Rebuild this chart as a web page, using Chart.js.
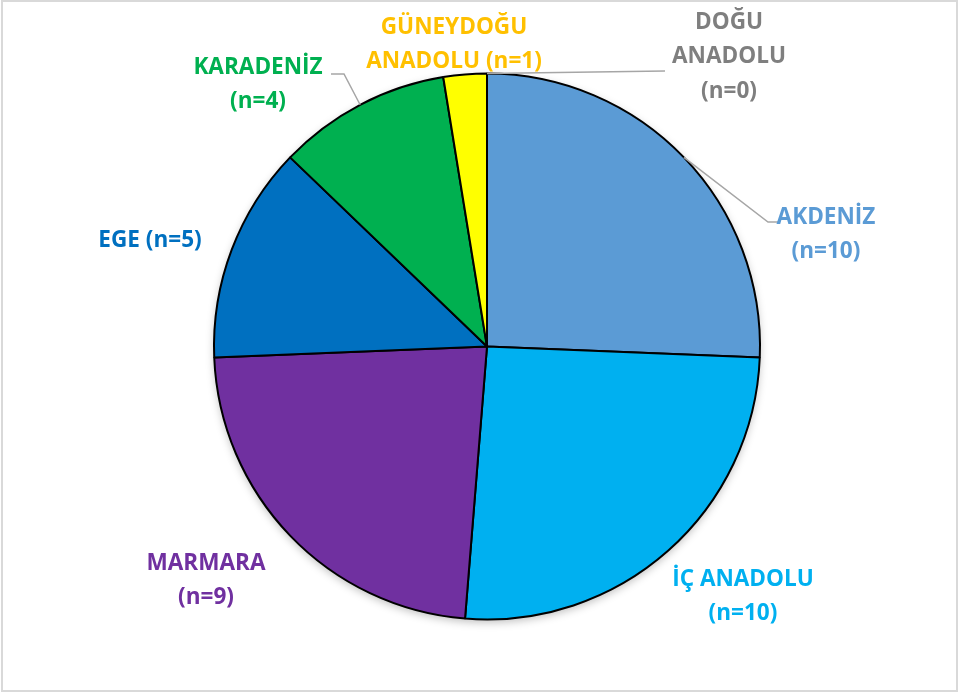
<!DOCTYPE html>
<html>
<head>
<meta charset="utf-8">
<script src="https://cdn.jsdelivr.net/npm/chart.js@4.4.0/dist/chart.umd.min.js"></script>
<style>
  html, body { margin: 0; padding: 0; background: #fff; }
  #wrap { position: relative; width: 960px; height: 693px; }
  #frame { position: absolute; left: 1px; top: 0; width: 953px; height: 688px; border: 2px solid #d9d9d9; }
  canvas { position: absolute; left: 0; top: 0; }
</style>
</head>
<body>
<div id="wrap">
  <div id="frame"></div>
  <canvas id="pie" width="960" height="693"></canvas>
</div>
<script>
// regions, clockwise from 12 o'clock
const regions = ['AKDENİZ', 'İÇ ANADOLU', 'MARMARA', 'EGE', 'KARADENİZ', 'GÜNEYDOĞU ANADOLU', 'DOĞU ANADOLU'];
const counts = [10, 10, 9, 5, 4, 1, 0];
const sliceColors = ['#5B9BD5', '#00B0F0', '#7030A0', '#0070C0', '#00B050', '#FFFF00', '#A5A5A5'];
const textColors = ['#5B9BD5', '#00B0F0', '#7030A0', '#0070C0', '#00B050', '#FFC000', '#7F7F7F'];

// label text lines (as printed in the chart)
const labelLines = [
  ['AKDENİZ', '(n=10)'],
  ['İÇ ANADOLU', '(n=10)'],
  ['MARMARA', '(n=9)'],
  ['EGE (n=5)'],
  ['KARADENİZ', '(n=4)'],
  ['GÜNEYDOĞU', 'ANADOLU (n=1)'],
  ['DOĞU', 'ANADOLU', '(n=0)'],
];

// label placement: text centre of first line, optional leader elbow
const labelLayout = [
  { x: 826, y: 217, leader: [[768, 222], [779, 222]] },
  { x: 743, y: 579 },
  { x: 206, y: 563 },
  { x: 150, y: 240 },
  { x: 258, y: 67, leader: [[344, 74], [331, 74]] },
  { x: 454, y: 27 },
  { x: 729, y: 22, leader: [[665, 71]] },
];

const outsideLabels = {
  id: 'outsideLabels',
  afterDatasetsDraw(chart) {
    const ctx = chart.ctx;
    const meta = chart.getDatasetMeta(0);
    ctx.save();
    meta.data.forEach((arc, i) => {
      const lay = labelLayout[i];
      if (lay.leader) {
        const mid = (arc.startAngle + arc.endAngle) / 2;
        const sx = arc.x + Math.cos(mid) * arc.outerRadius;
        const sy = arc.y + Math.sin(mid) * arc.outerRadius;
        ctx.beginPath();
        ctx.moveTo(sx, sy);
        lay.leader.forEach(p => ctx.lineTo(p[0], p[1]));
        ctx.strokeStyle = '#A6A6A6';
        ctx.lineWidth = 1.5;
        ctx.stroke();
      }
      ctx.fillStyle = textColors[i];
      ctx.font = "bold 24px 'Open Sans', sans-serif";
      ctx.textAlign = 'center';
      ctx.textBaseline = 'middle';
      labelLines[i].forEach((t, k) => {
        ctx.save();
        ctx.translate(lay.x, lay.y + k * 34.5);
        ctx.scale(0.94, 1);
        ctx.fillText(t, 0, 0);
        ctx.restore();
      });
    });
    ctx.restore();
  },
};

const pieShadow = {
  id: 'pieShadow',
  beforeDatasetsDraw(chart) {
    const arc = chart.getDatasetMeta(0).data[0];
    const ctx = chart.ctx;
    ctx.save();
    ctx.shadowColor = 'rgba(0,0,0,0.25)';
    ctx.shadowBlur = 8;
    ctx.shadowOffsetY = 3;
    ctx.beginPath();
    ctx.arc(arc.x, arc.y, arc.outerRadius, 0, Math.PI * 2);
    ctx.fillStyle = '#fff';
    ctx.fill();
    ctx.restore();
  },
};

new Chart(document.getElementById('pie'), {
  type: 'pie',
  data: {
    labels: regions,
    datasets: [{
      data: counts,
      backgroundColor: sliceColors,
      borderColor: '#000',
      borderWidth: 2,
      borderAlign: 'center',
    }],
  },
  options: {
    responsive: false,
    animation: false,
    layout: { padding: { top: 72, bottom: 72, left: 213, right: 199 } },
    plugins: {
      legend: { display: false },
      tooltip: { enabled: false },
    },
  },
  plugins: [pieShadow, outsideLabels],
});
</script>
</body>
</html>
